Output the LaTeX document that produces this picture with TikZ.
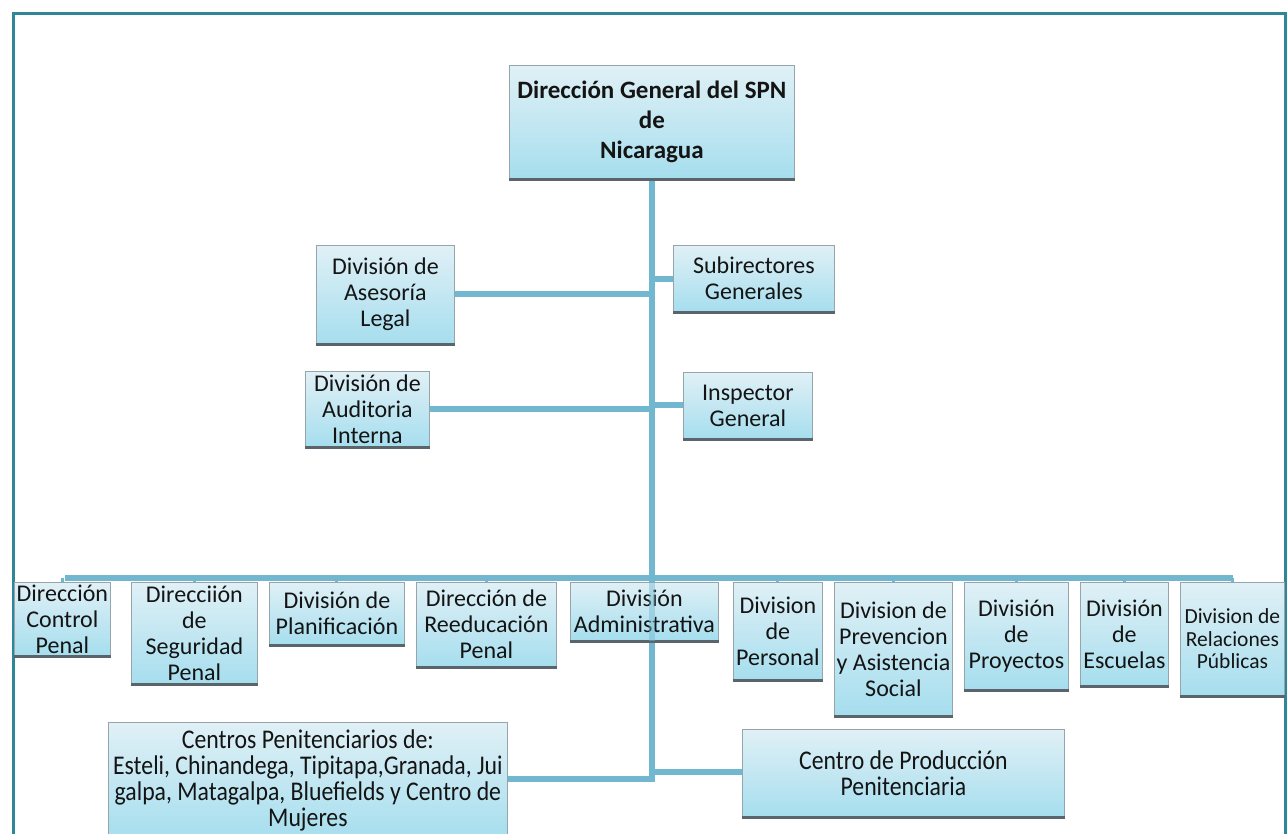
\documentclass[tikz,border=0pt]{standalone}
\usepackage{fontspec}
\setmainfont{Carlito}
\newfontfamily\narrowfont{Carlito}[FakeStretch=0.88]
\definecolor{framec}{RGB}{46,135,153}
\definecolor{connc}{RGB}{112,183,207}
\definecolor{boxtop}{RGB}{224,240,246}
\definecolor{boxbot}{RGB}{166,222,238}
\definecolor{boxborder}{RGB}{150,165,172}
\definecolor{boxshadow}{RGB}{90,100,106}
\definecolor{txtc}{RGB}{20,20,20}
\tikzset{
  frameline/.style={draw=framec, line width=3pt},
  conn/.style={draw=connc, line width=6pt},
  boxshape/.style={draw=boxborder, line width=0.8pt, top color=boxtop, bottom color=boxbot, inner sep=0pt, anchor=north west, rectangle},
  txt/.style={align=center, inner sep=0pt, text=txtc, font=\fontsize{24}{26}\selectfont},
  shadowline/.style={draw=boxshadow, line width=3pt},
}
\newcommand\obox[7][]{%
  \node[boxshape, minimum width=#5, minimum height=#6] (#2) at (#3,#4) {};
  \draw[shadowline] ([yshift=-1pt]#2.south west) -- ([yshift=-1pt]#2.south east);
  \node[txt,#1] (#2t) at (#2.center) {#7};
}
\begin{document}
\begin{tikzpicture}[x=1pt,y=-1pt]
\useasboundingbox (0,0) rectangle (1287,834);
\fill[white] (0,0) rectangle (1287,834);
\draw[frameline] (13,850) -- (13,14) -- (1285,14) -- (1285,850);

% coordinates for the bus
\coordinate (busL) at (65,578);
\coordinate (busR) at (1233,578);
\coordinate (jt) at (651.5,178);

% connectors first
\draw[conn] (jt) -- (651.5,779) -- (507,779);
\draw[conn] (busL) -- (busR);
\draw[conn] (454,294) -- (651.5,294);
\draw[conn] (651.5,279) -- (673,279);
\draw[conn] (429,409) -- (651.5,409);
\draw[conn] (651.5,405) -- (683,405);
\draw[conn] (651.5,772) -- (742,772);

% boxes
\obox[font=\bfseries\fontsize{25}{30}\selectfont]{top}{509}{65}{285}{113}{Dirección General del SPN\\de\\Nicaragua}
\obox{ase}{316}{245}{138}{98}{División de\\Asesoría\\Legal}
\obox{sub}{673}{245}{161}{66}{Subirectores\\Generales}
\obox{aud}{305}{371}{124}{75}{División de\\Auditoria\\Interna}
\obox{insp}{683}{372}{129}{66}{Inspector\\General}

\obox{b1}{14}{582}{96}{73}{Dirección\\Control\\Penal}
\obox{b2}{131}{582}{126}{101}{Direcciión\\de\\Seguridad\\Penal}
\obox{b3}{269}{582}{135}{62}{División de\\Planificación}
\obox{b4}{416}{582}{140}{84}{Dirección de\\Reeducación\\Penal}
\obox{b5}{570}{582}{148}{58}{División\\Administrativa}
\obox{b6}{733}{582}{89}{97}{Division\\de\\Personal}
\obox{b7}{834}{582}{118}{133}{Division de\\Prevencion\\y Asistencia\\Social}
\obox{b8}{964}{582}{104}{107}{División\\de\\Proyectos}
\obox{b9}{1080}{582}{88}{103}{División\\de\\Escuelas}
\obox[font=\fontsize{21.5}{22.5}\selectfont]{b10}{1180}{582}{104}{113}{Division de\\Relaciones\\Públicas}

\obox[font=\narrowfont\fontsize{27}{26}\selectfont]{cen}{108}{722}{399}{116}{Centros Penitenciarios de:\\Esteli, Chinandega, Tipitapa,Granada, Jui\\galpa, Matagalpa, Bluefields y Centro de\\Mujeres}
\obox[font=\narrowfont\fontsize{27}{26}\selectfont]{prod}{742}{729}{322}{87}{Centro de Producción\\Penitenciaria}

% trunk seen through the administrative box
\draw[conn, draw opacity=0.45] (jt |- b5.north) -- (jt |- b5.south);

% drops from the bus to the boxes of the lower row
\foreach \n in {b1,b2,b3,b4,b6,b7,b8,b9,b10}{
  \draw[draw=connc, line width=3pt] (\n.north |- busL) -- (\n.north);
}
\end{tikzpicture}
\end{document}
